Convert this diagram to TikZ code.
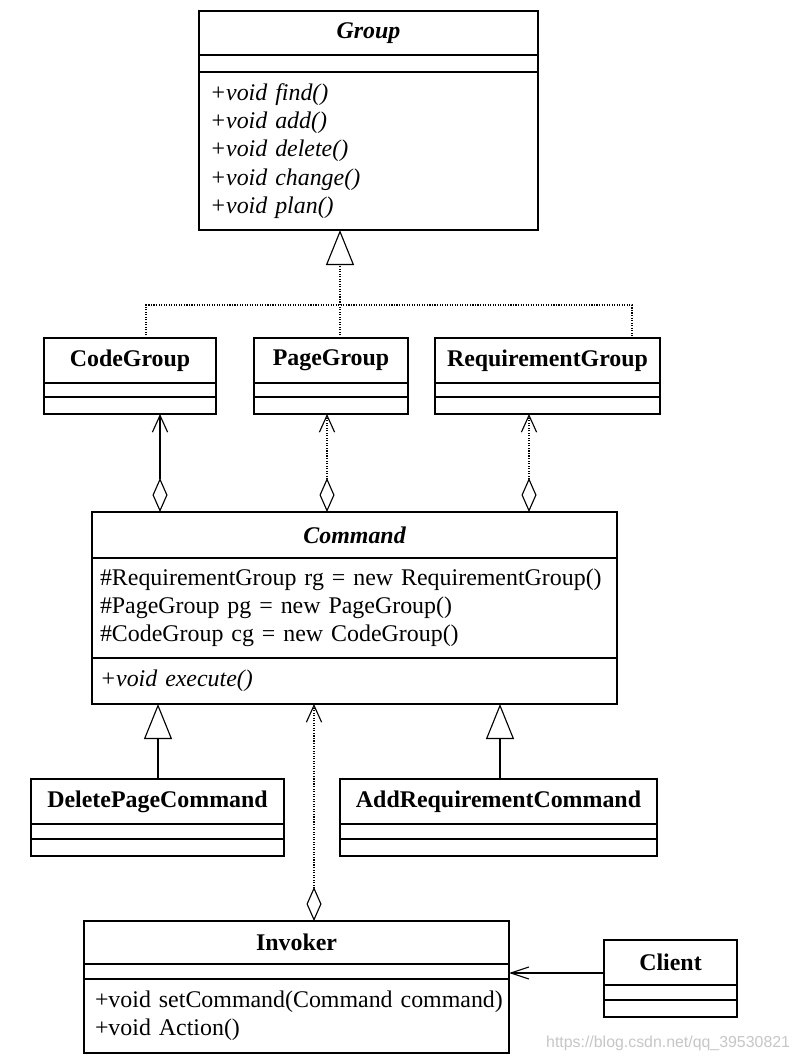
\documentclass[tikz,border=0pt]{standalone}
\usepackage{fontspec}
\setmainfont{Liberation Serif}
\newfontfamily\wmfont{Liberation Sans}
\usetikzlibrary{positioning,calc,arrows.meta}

\begin{document}
\begin{tikzpicture}[x=0.025cm,y=-0.025cm,
	box/.style={draw,line width=1.2pt,inner sep=0pt,outer sep=0pt,font=\fontsize{17}{20}\selectfont},
	umlname/.style={box,anchor=north west,font=\fontsize{17}{20}\selectfont\bfseries},
	umlpart/.style={box,align=left},
	conn/.style={line width=0.8pt},
	gentip/.style={-{Triangle[open,length=0.875cm,width=0.7cm]}},
	aggr/.style={conn,{Diamond[open,length=0.85cm,width=0.375cm]}-{Straight Barb[length=0.42cm,width=0.38cm]}}]
	\useasboundingbox (0,0) rectangle (797,1061);

	% Group
	\node[umlname,minimum width=8.475cm,minimum height=1.1cm] (group) at (199,11) {\itshape Group};
	\node[umlpart,minimum width=8.475cm,minimum height=0.425cm,below=0pt of group] (group-a) {};
	\node[umlpart,minimum width=8.475cm,minimum height=3.95cm,text width=7.925cm,below=0pt of group-a] (group-o)
		{\itshape +void find()\\+void add()\\+void delete()\\+void change()\\+void plan()};

	% CodeGroup, PageGroup, RequirementGroup
	\node[umlname,minimum width=4.3cm,minimum height=1.125cm] (codegroup) at (44,338) {CodeGroup};
	\node[umlpart,minimum width=4.3cm,minimum height=0.35cm,below=0pt of codegroup] (codegroup-a) {};
	\node[umlpart,minimum width=4.3cm,minimum height=0.425cm,below=0pt of codegroup-a] (codegroup-o) {};
	\node[umlname,minimum width=3.85cm,minimum height=1.125cm] (pagegroup) at (254,338) {PageGroup};
	\node[umlpart,minimum width=3.85cm,minimum height=0.35cm,below=0pt of pagegroup] (pagegroup-a) {};
	\node[umlpart,minimum width=3.85cm,minimum height=0.425cm,below=0pt of pagegroup-a] (pagegroup-o) {};
	\node[umlname,minimum width=5.625cm,minimum height=1.125cm] (reqgroup) at (435,338) {RequirementGroup};
	\node[umlpart,minimum width=5.625cm,minimum height=0.35cm,below=0pt of reqgroup] (reqgroup-a) {};
	\node[umlpart,minimum width=5.625cm,minimum height=0.425cm,below=0pt of reqgroup-a] (reqgroup-o) {};

	% Command
	\node[umlname,minimum width=13.125cm,minimum height=1.15cm] (command) at (92,512) {\itshape Command};
	\node[umlpart,minimum width=13.125cm,minimum height=2.5cm,text width=12.725cm,below=0pt of command] (command-a)
		{\#RequirementGroup rg = new RequirementGroup()\\\#PageGroup pg = new PageGroup()\\\#CodeGroup cg = new CodeGroup()};
	\node[umlpart,minimum width=13.125cm,minimum height=1.15cm,text width=12.725cm,below=0pt of command-a] (command-o)
		{\itshape +void execute()};

	% DeletePageCommand, AddRequirementCommand
	\node[umlname,minimum width=6.325cm,minimum height=1.125cm] (delpage) at (31,779) {DeletePageCommand};
	\node[umlpart,minimum width=6.325cm,minimum height=0.375cm,below=0pt of delpage] (delpage-a) {};
	\node[umlpart,minimum width=6.325cm,minimum height=0.425cm,below=0pt of delpage-a] (delpage-o) {};
	\node[umlname,minimum width=7.925cm,minimum height=1.125cm] (addreq) at (340,779) {AddRequirementCommand};
	\node[umlpart,minimum width=7.925cm,minimum height=0.375cm,below=0pt of addreq] (addreq-a) {};
	\node[umlpart,minimum width=7.925cm,minimum height=0.425cm,below=0pt of addreq-a] (addreq-o) {};

	% Invoker, Client
	\node[umlname,minimum width=10.625cm,minimum height=1.075cm] (invoker) at (84,921) {Invoker};
	\node[umlpart,minimum width=10.625cm,minimum height=0.375cm,below=0pt of invoker] (invoker-a) {};
	\node[umlpart,minimum width=10.625cm,minimum height=1.85cm,text width=10.075cm,below=0pt of invoker-a] (invoker-o)
		{\mbox{+void setCommand(Command command)}\\+void Action()};
	\node[umlname,minimum width=3.325cm,minimum height=1.125cm] (client) at (604,940) {Client};
	\node[umlpart,minimum width=3.325cm,minimum height=0.375cm,below=0pt of client] (client-a) {};
	\node[umlpart,minimum width=3.325cm,minimum height=0.425cm,below=0pt of client-a] (client-o) {};

	% realization of Group
	\coordinate (trunk) at (340,305);
	\draw[conn,densely dotted] ($(codegroup.north west)+(102,0)$) |- (trunk) -| ($(reqgroup.north west)+(197,0)$);
	\draw[conn,densely dotted,gentip] ($(pagegroup.north west)+(86,0)$) -- ($(group-o.south west)+(141,0)$);

	% Command holds the groups
	\path ($(codegroup-o.south west)+(116,0)$) coordinate (cg-end)
		($(pagegroup-o.south west)+(73,0)$) coordinate (pg-end)
		($(reqgroup-o.south west)+(94,0)$) coordinate (rg-end);
	\draw[aggr] (cg-end |- command.north) -- (cg-end);
	\draw[aggr,densely dotted] (pg-end |- command.north) -- (pg-end);
	\draw[aggr,densely dotted] (rg-end |- command.north) -- (rg-end);

	% subclasses of Command
	\path ($(delpage.north west)+(127,0)$) coordinate (dp-top)
		($(addreq.north west)+(160,0)$) coordinate (ar-top);
	\draw[conn,gentip] (dp-top) -- (dp-top |- command-o.south);
	\draw[conn,gentip] (ar-top) -- (ar-top |- command-o.south);

	% Invoker holds a Command
	\path ($(invoker.north west)+(230,0)$) coordinate (inv-top);
	\draw[aggr,densely dotted] (inv-top) -- (inv-top |- command-o.south);

	% Client uses Invoker
	\path ($(client.north west)+(0,33)$) coordinate (cl-left);
	\draw[conn,-{Straight Barb[length=0.45cm,width=0.3cm]}] (cl-left) -- (cl-left -| invoker-a.east);

	\node[anchor=east,text=gray!45,font=\wmfont\fontsize{11.3}{13}\selectfont] (watermark) at (795,1043) {https://blog.csdn.net/qq\_39530821};
\end{tikzpicture}
\end{document}
